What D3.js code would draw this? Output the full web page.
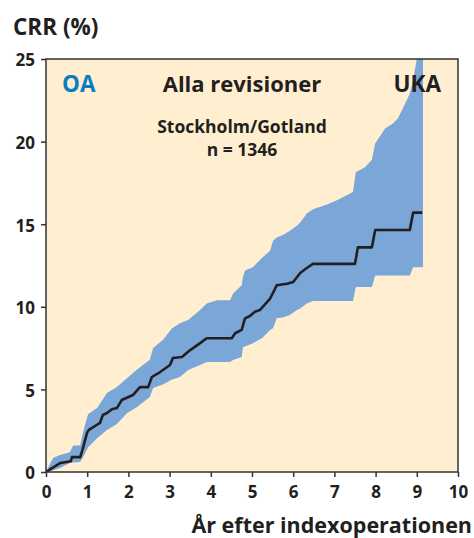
<!DOCTYPE html>
<html>
<head>
<meta charset="utf-8">
<script src="https://cdn.jsdelivr.net/npm/d3@7"></script>
<style>
  body { margin: 0; background: #fff; }
  text { font-family: "Open Sans", sans-serif; font-weight: 700; fill: #231f20; }
</style>
</head>
<body>
<script>
// band (confidence interval) - years and lower / upper CRR (%)
var bandYears = [0, 0.17, 0.34, 0.58, 0.66, 0.83, 0.9, 1.02, 1.24, 1.48, 1.72, 1.97, 2.21, 2.52, 2.6, 2.84,
    3.06, 3.25, 3.45, 3.74, 3.9, 4.15, 4.47, 4.54, 4.75, 4.78, 4.83, 5.02, 5.24, 5.44, 5.51, 5.6, 5.75,
    5.92, 6.09, 6.17, 6.33, 6.48, 6.82, 7.06, 7.3, 7.45, 7.52, 7.74, 7.91, 7.99, 8.1, 8.23, 8.42, 8.54,
    8.66, 8.83, 8.91, 9.0, 9.15];
var bandLow = [0, 0.1, 0.24, 0.54, 0.58, 0.6, 0.9, 1.5, 2.05, 2.54, 2.9, 3.57, 3.93, 4.54, 5.08, 5.3,
    5.6, 5.75, 6.17, 6.48, 6.66, 6.66, 6.66, 6.78, 6.96, 7.57, 7.6, 7.8, 8.1, 8.6, 8.7, 9.3, 9.35,
    9.5, 9.8, 9.9, 10.2, 10.35, 10.35, 10.35, 10.35, 10.35, 11.2, 11.2, 11.2, 11.9, 11.9, 11.9, 11.9, 11.9,
    11.9, 11.9, 12.4, 12.4, 12.4];
var bandHigh = [0, 0.85, 1.03, 1.2, 1.6, 1.6, 2.4, 3.5, 3.87, 4.78, 5.15, 5.69, 6.2, 6.8, 7.5, 8.0,
    8.7, 9.0, 9.2, 9.8, 10.2, 10.4, 10.4, 10.8, 11.3, 11.8, 12.2, 12.4, 12.95, 13.4, 14.0, 14.2, 14.35,
    14.6, 14.9, 15.1, 15.65, 15.9, 16.2, 16.45, 16.75, 16.95, 18.15, 18.45, 18.9, 19.9, 20.3, 20.8, 21.1, 21.4,
    22.0, 22.9, 23.7, 25, 25];

// median CRR line
var lineYears = [0, 0.35, 0.6, 0.63, 0.83, 0.88, 1.0, 1.04, 1.2, 1.31, 1.38, 1.48, 1.6, 1.72, 1.84, 2.11,
    2.28, 2.48, 2.57, 2.77, 3.01, 3.08, 3.3, 3.5, 3.74, 3.9, 4.51, 4.59, 4.75, 4.83, 4.95, 5.07, 5.19,
    5.44, 5.6, 5.85, 6.0, 6.17, 6.33, 6.48, 7.5, 7.57, 7.91, 7.99, 8.83, 8.91, 9.13];
var lineCRR = [0, 0.55, 0.65, 0.9, 0.9, 1.3, 2.4, 2.55, 2.8, 2.97, 3.45, 3.57, 3.8, 3.87, 4.36, 4.66,
    5.14, 5.14, 5.75, 6.05, 6.48, 6.9, 6.96, 7.38, 7.8, 8.1, 8.1, 8.4, 8.6, 9.3, 9.44, 9.7, 9.8,
    10.5, 11.3, 11.4, 11.5, 12.05, 12.35, 12.6, 12.6, 13.6, 13.6, 14.65, 14.65, 15.7, 15.7];

var xTicks = [0, 1, 2, 3, 4, 5, 6, 7, 8, 9, 10];
var yTicks = [0, 5, 10, 15, 20, 25];

var width = 474,
    height = 538;

var svg = d3.select("body").append("svg")
    .attr("width", width)
    .attr("height", height);

var x = d3.scaleLinear().domain([0, 10]).range([46, 458]);
var y = d3.scaleLinear().domain([0, 25]).range([472, 59]);

// plot background
svg.append("rect")
    .attr("x", x(0)).attr("y", y(25))
    .attr("width", x(10) - x(0)).attr("height", y(0) - y(25))
    .attr("fill", "#ffefd0");

svg.append("clipPath").attr("id", "clip")
    .append("rect")
    .attr("x", x(0)).attr("y", y(25))
    .attr("width", x(10) - x(0)).attr("height", y(0) - y(25));

var band = bandYears.map(function(t, i) { return { t: t, lo: bandLow[i], hi: bandHigh[i] }; });
var median = lineYears.map(function(t, i) { return { t: t, v: lineCRR[i] }; });

var plot = svg.append("g").attr("clip-path", "url(#clip)");

plot.append("path")
    .datum(band)
    .attr("fill", "#7ba6d8")
    .attr("d", d3.area()
        .x(function(d) { return x(d.t); })
        .y0(function(d) { return y(d.lo); })
        .y1(function(d) { return y(d.hi); }));

plot.append("path")
    .datum(median)
    .attr("fill", "none")
    .attr("stroke", "#231f20")
    .attr("stroke-width", 2.6)
    .attr("stroke-linejoin", "round")
    .attr("d", d3.line()
        .x(function(d) { return x(d.t); })
        .y(function(d) { return y(d.v); }));

// frame
svg.append("rect")
    .attr("x", x(0)).attr("y", y(25))
    .attr("width", x(10) - x(0)).attr("height", y(0) - y(25))
    .attr("fill", "none")
    .attr("stroke", "#333")
    .attr("stroke-width", 1.5);

// axes
var yAxis = svg.append("g")
    .attr("transform", "translate(" + x(0) + ",0)")
    .call(d3.axisLeft(y).tickValues(yTicks).tickSize(5).tickPadding(6));
var xAxis = svg.append("g")
    .attr("transform", "translate(0," + y(0) + ")")
    .call(d3.axisBottom(x).tickValues(xTicks).tickSize(5).tickPadding(9));

[xAxis, yAxis].forEach(function(ax) {
    ax.select(".domain").remove();
    ax.selectAll(".tick line").attr("stroke", "#333").attr("stroke-width", 1.5);
    ax.selectAll(".tick text")
        .style("font-family", "'Open Sans', sans-serif")
        .style("font-weight", 700)
        .style("font-size", "17px")
        .attr("fill", "#231f20");
});
yAxis.selectAll(".tick text").attr("dy", "0.4em");

// titles and labels
svg.append("text").attr("x", 13).attr("y", 35)
    .style("font-size", "22.5px").text("CRR (%)");

svg.append("text").attr("x", 472).attr("y", 533)
    .attr("text-anchor", "end")
    .style("font-size", "21.5px").text("År efter indexoperationen");

svg.append("text").attr("x", 62).attr("y", 92)
    .style("font-size", "22.5px").style("fill", "#0a7cc1").text("OA");

svg.append("text").attr("x", 242).attr("y", 92)
    .attr("text-anchor", "middle")
    .style("font-size", "22px").text("Alla revisioner");

svg.append("text").attr("x", 441).attr("y", 92)
    .attr("text-anchor", "end")
    .style("font-size", "22.5px").text("UKA");

svg.append("text").attr("x", 242).attr("y", 133)
    .attr("text-anchor", "middle")
    .style("font-size", "17.5px").text("Stockholm/Gotland");

svg.append("text").attr("x", 242).attr("y", 156)
    .attr("text-anchor", "middle")
    .style("font-size", "17.5px").text("n = 1346");
</script>
</body>
</html>
